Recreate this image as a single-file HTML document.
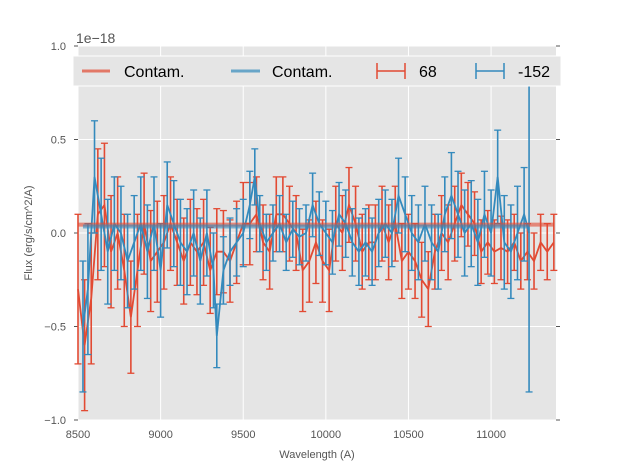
<!DOCTYPE html>
<html><head><meta charset="utf-8"><style>
body{margin:0;background:#fff;}
svg{display:block;font-family:"Liberation Sans",sans-serif;}
</style></head><body>
<svg id="chart" width="617" height="467"></svg>
<script>
const redX=[8500,8540,8580,8620,8660,8700,8740,8780,8820,8860,8900,8940,8980,9020,9060,9100,9140,9180,9220,9260,9300,9340,9380,9420,9460,9500,9540,9580,9620,9660,9700,9740,9780,9820,9860,9900,9940,9980,10020,10060,10100,10140,10180,10220,10260,10300,10340,10380,10420,10460,10500,10540,10580,10620,10660,10700,10740,10780,10820,10860,10900,10940,10980,11020,11060,11100,11140,11180,11220,11260,11300,11340,11380];
const redY=[-0.3,-0.6,-0.35,0.1,0.15,-0.1,0.0,-0.2,-0.45,-0.2,0.05,-0.15,-0.1,-0.05,0.05,-0.05,-0.15,-0.05,-0.1,-0.05,-0.2,-0.1,-0.1,-0.15,-0.05,0.05,0.05,0.1,-0.05,-0.1,0.1,0.1,0.05,0.0,-0.2,-0.15,-0.05,-0.15,-0.2,0.05,0.0,0.15,0.05,-0.1,-0.05,-0.05,0.05,-0.05,0.05,-0.15,-0.1,-0.15,-0.25,-0.3,-0.1,0.0,-0.05,0.05,0.15,0.1,0.05,-0.1,-0.05,-0.1,-0.08,-0.1,-0.05,-0.15,-0.1,-0.15,-0.05,-0.1,-0.05];
const redErr=[0.4,0.35,0.35,0.35,0.33,0.3,0.3,0.3,0.3,0.3,0.27,0.27,0.27,0.25,0.25,0.23,0.23,0.23,0.23,0.23,0.23,0.23,0.22,0.22,0.22,0.22,0.22,0.2,0.2,0.2,0.2,0.2,0.2,0.2,0.22,0.22,0.22,0.22,0.22,0.2,0.2,0.2,0.2,0.2,0.2,0.2,0.2,0.2,0.2,0.2,0.2,0.2,0.2,0.2,0.2,0.2,0.2,0.2,0.17,0.17,0.17,0.17,0.17,0.17,0.17,0.17,0.15,0.15,0.15,0.15,0.15,0.15,0.15];
const blueX=[8530,8560,8600,8640,8680,8720,8760,8800,8840,8880,8920,8960,9000,9040,9080,9120,9160,9200,9240,9280,9320,9340,9380,9420,9460,9500,9540,9570,9600,9640,9680,9720,9760,9800,9840,9880,9920,9960,10000,10040,10080,10120,10160,10200,10240,10280,10320,10360,10400,10440,10480,10520,10560,10600,10640,10680,10720,10760,10800,10840,10880,10920,10960,11000,11040,11080,11120,11160,11200,11230];
const blueY=[-0.5,-0.3,0.3,0.1,-0.1,0.05,0.0,-0.15,-0.05,0.05,-0.1,0.05,-0.2,0.15,0.05,-0.05,-0.1,0.0,-0.15,0.0,-0.2,-0.55,-0.2,-0.1,-0.05,0.0,0.15,0.3,0.05,-0.05,0.0,0.05,-0.05,0.02,-0.02,0.0,0.15,0.05,0.0,-0.05,0.1,0.05,-0.05,-0.1,-0.05,-0.1,0.0,0.05,0.0,0.2,0.1,0.0,-0.05,0.05,-0.05,-0.1,0.1,0.2,0.1,0.0,0.05,-0.05,0.1,0.0,0.3,-0.05,-0.1,0.0,0.1,0.0];
const blueErr=[0.35,0.35,0.3,0.3,0.28,0.25,0.25,0.25,0.25,0.25,0.25,0.25,0.25,0.23,0.23,0.23,0.23,0.23,0.23,0.23,0.2,0.17,0.18,0.18,0.18,0.18,0.18,0.15,0.15,0.15,0.15,0.15,0.15,0.15,0.15,0.15,0.17,0.17,0.17,0.17,0.17,0.18,0.18,0.18,0.18,0.18,0.18,0.18,0.18,0.2,0.2,0.2,0.2,0.2,0.2,0.2,0.2,0.23,0.23,0.23,0.23,0.23,0.23,0.23,0.25,0.25,0.25,0.25,0.25,0.85];
const contamRed=0.045, contamBlue=0.035;
const xTicks=[8500,9000,9500,10000,10500,11000];
const yTicks=[-1.0,-0.5,0.0,0.5,1.0];
const yTickLabels=["−1.0","−0.5","0.0","0.5","1.0"];

const NS="http://www.w3.org/2000/svg";
const svg=document.getElementById('chart');
const L=78,R=556,T=46,B=420,X0=8500,X1=11393;
const sx=v=>L+(v-X0)/(X1-X0)*(R-L);
const sy=v=>T+(1-v)/2*(B-T);
function mk(tag,attrs,parent){const e=document.createElementNS(NS,tag);for(const k in attrs)e.setAttribute(k,attrs[k]);(parent||svg).appendChild(e);return e;}

const bg=mk('rect',{x:L,y:T,width:R-L,height:B-T,fill:'#E5E5E5'});


xTicks.forEach(t=>{
  mk('line',{x1:sx(t),x2:sx(t),y1:T,y2:B,stroke:'#fff','stroke-width':1});
  const tx=mk('text',{x:sx(t),y:B+18,'text-anchor':'middle','font-size':11,fill:'#555'});tx.textContent=t;
  
  
});
yTicks.forEach((t,i)=>{
  mk('line',{x1:L,x2:R,y1:sy(t),y2:sy(t),stroke:'#fff','stroke-width':1});
  mk('line',{x1:L-4,x2:L,y1:sy(t),y2:sy(t),stroke:'#555'});
  mk('line',{x1:R,x2:R+4,y1:sy(t),y2:sy(t),stroke:'#555'});
  const tx=mk('text',{x:L-12,y:sy(t)+4,'text-anchor':'end','font-size':11,fill:'#555'});tx.textContent=yTickLabels[i];
  
  
});
function series(xs,ys,es,color,name){
  const g=mk('g',{});
  
  
  xs.forEach((x,i)=>{
    const X=sx(x),a=Math.max(T,sy(ys[i]+es[i])),b=Math.min(B,sy(ys[i]-es[i]));
    mk('line',{x1:X,x2:X,y1:a,y2:b,stroke:color,'stroke-width':1.6},g);
    mk('line',{x1:X-3.5,x2:X+3.5,y1:a,y2:a,stroke:color,'stroke-width':1.3},g);
    mk('line',{x1:X-3.5,x2:X+3.5,y1:b,y2:b,stroke:color,'stroke-width':1.3},g);
  });
  mk('polyline',{points:xs.map((x,i)=>sx(x)+','+sy(ys[i])).join(' '),fill:'none',stroke:color,'stroke-width':1.8},g);
}
series(redX,redY,redErr,'#E24A33','series-68');
series(blueX,blueY,blueErr,'#348ABD','series-minus-152');
const c1=mk('line',{x1:sx(redX[0]),x2:sx(redX[redX.length-1]),y1:sy(contamRed),y2:sy(contamRed),stroke:'#E24A33','stroke-width':4,opacity:0.6});


const c2=mk('line',{x1:sx(blueX[0]),x2:sx(blueX[blueX.length-1]),y1:sy(contamBlue),y2:sy(contamBlue),stroke:'#348ABD','stroke-width':4,opacity:0.6});


</script>
<svg width="617" height="467" style="position:absolute;left:0;top:0;font-family:'Liberation Sans',sans-serif">
 <text x="76" y="43" font-size="14" fill="#555">1e−18</text>
 <text x="317" y="458" font-size="11" fill="#555" text-anchor="middle">Wavelength (A)</text>
 <text transform="translate(32,233) rotate(-90)" font-size="11" fill="#555" text-anchor="middle">Flux (erg/s/cm^2/A)</text>
 <g>
  <rect x="73" y="56" width="488" height="30" fill="#E5E5E5" stroke="#fff"/>
  <line x1="82" x2="110" y1="71" y2="71" stroke="#E24A33" stroke-width="3" opacity="0.7"/>
  <text x="124" y="77" font-size="16" fill="#000">Contam.</text>
  <line x1="231" x2="260" y1="71" y2="71" stroke="#348ABD" stroke-width="3" opacity="0.7"/>
  <text x="272" y="77" font-size="16" fill="#000">Contam.</text>
  <g stroke="#E24A33" stroke-width="1.5"><line x1="377" x2="405" y1="71" y2="71"/><line x1="377" x2="377" y1="63" y2="79"/><line x1="405" x2="405" y1="63" y2="79"/></g>
  <text x="419" y="77" font-size="16" fill="#000">68</text>
  <g stroke="#348ABD" stroke-width="1.5"><line x1="476" x2="504" y1="71" y2="71"/><line x1="476" x2="476" y1="63" y2="79"/><line x1="504" x2="504" y1="63" y2="79"/></g>
  <text x="518" y="77" font-size="16" fill="#000">-152</text>
 </g>
</svg>
</body></html>
